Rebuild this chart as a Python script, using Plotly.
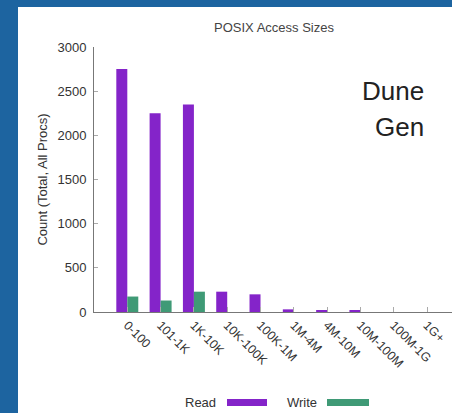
import plotly.graph_objects as go

categories = ["0-100", "101-1K", "1K-10K", "10K-100K", "100K-1M", "1M-4M",
              "4M-10M", "10M-100M", "100M-1G", "1G+"]
read_counts = [2750, 2250, 2350, 230, 200, 30, 15, 15, 0, 0]
write_counts = [175, 130, 230, 0, 0, 0, 0, 0, 0, 0]
y_ticks = [0, 500, 1000, 1500, 2000, 2500, 3000]

W, H = 452, 413
L, R, T, B = 94, 0, 47, 101
PURPLE = "#8424c9"
GREEN = "#3f9a76"
BLUE = "#1d64a0"

def px_x(p):
    return (p - L) / (W - L - R)

def px_y(p):
    return 1 - (p - T) / (H - T - B)

fig = go.Figure()
fig.add_trace(go.Bar(x=categories, y=read_counts, name="Read", marker=dict(color=PURPLE, line=dict(width=0))))
fig.add_trace(go.Bar(x=categories, y=write_counts, name="Write", marker=dict(color=GREEN, line=dict(width=0))))

font = "Liberation Sans, Arial, sans-serif"
fig.update_layout(
    width=W, height=H,
    margin=dict(l=L, r=R, t=T, b=B, autoexpand=False),
    paper_bgcolor="white",
    plot_bgcolor="white",
    barmode="group",
    bargap=0.34,
    bargroupgap=0,
    showlegend=False,
    font=dict(family=font, color="#333", size=13),
    xaxis=dict(
        type="category", range=[-1, 9.75], tickangle=45,
        showline=True, linecolor="#777", linewidth=1,
        ticks="inside", ticklen=5, tickcolor="#aaa",
        showgrid=False, tickfont=dict(size=12.5, color="#333"),
    ),
    yaxis=dict(
        range=[0, 3000], tickvals=y_ticks,
        showline=True, linecolor="#777", linewidth=1,
        ticks="inside", ticklen=4, tickcolor="#aaa",
        showgrid=False, zeroline=False, ticklabelstandoff=4,
        tickfont=dict(size=13, color="#333"),
        title=dict(text="Count (Total, All Procs)", font=dict(size=13, color="#333"), standoff=6),
    ),
)

shapes = [
    # blue slide background (left strip and top strip)
    dict(type="rect", xref="paper", yref="paper", layer="above",
         x0=px_x(0), x1=px_x(18), y0=px_y(H), y1=px_y(0),
         fillcolor=BLUE, line=dict(width=0)),
    dict(type="rect", xref="paper", yref="paper", layer="above",
         x0=px_x(18), x1=px_x(W), y0=px_y(7), y1=px_y(0),
         fillcolor=BLUE, line=dict(width=0)),
    # legend swatches
    dict(type="rect", xref="paper", yref="paper",
         x0=px_x(227), x1=px_x(267), y0=px_y(399), y1=px_y(406),
         fillcolor=PURPLE, line=dict(width=0)),
    dict(type="rect", xref="paper", yref="paper",
         x0=px_x(327), x1=px_x(369), y0=px_y(399), y1=px_y(406),
         fillcolor=GREEN, line=dict(width=0)),
]
fig.update_layout(shapes=shapes)

def note(text, x, y, size, color, xanchor="center"):
    return dict(text=text, x=px_x(x), y=px_y(y), xref="paper", yref="paper",
                xanchor=xanchor, yanchor="middle", showarrow=False,
                font=dict(size=size, color=color))

annotations = [
    note("POSIX Access Sizes", 274, 27, 13, "#444"),
    note("Dune", 426, 91, 26, "#222", "right"),
    note("Gen", 426, 127, 26, "#222", "right"),
    note("Read", 218, 402.5, 13, "#333", "right"),
    note("Write", 319, 402.5, 13, "#333", "right"),
]
fig.update_layout(annotations=annotations)

fig.write_html("out.html")
